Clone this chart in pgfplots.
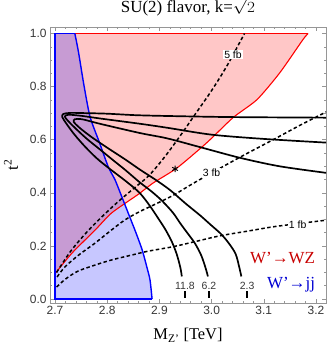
\documentclass[border=0pt]{standalone}
\usepackage{graphicx}
\usepackage{pgfplots}
\pgfplotsset{compat=1.18}
\usepackage{fontspec}
\setmainfont{Liberation Serif}
\newfontfamily\arial{Liberation Sans}
\definecolor{framegray}{RGB}{150,150,150}
\definecolor{ticktext}{RGB}{55,55,55}
\definecolor{wzred}{RGB}{200,0,0}
\definecolor{jjblue}{RGB}{0,0,210}

\begin{document}
\begin{tikzpicture}
\path[use as bounding box] (-50bp,-47bp) rectangle (282bp,303bp);
\begin{axis}[
    at={(0,0)}, anchor=south west,
    width=276bp, height=276bp, scale only axis,
    xmin=2.6904, xmax=3.2192,
    ymin=-0.015, ymax=1.0245,
    xtick={2.7,2.8,2.9,3.0,3.1,3.2},
    ytick={0,0.2,0.4,0.6,0.8,1.0},
    minor x tick num=4,
    minor y tick num=3,
    tick align=inside,
    major tick length=4bp,
    minor tick length=2.2bp,
    axis line style={framegray, line width=0.6pt},
    every tick/.style={framegray, line width=0.5pt},
    /pgf/number format/assume math mode=true,
    xticklabel style={/pgf/number format/.cd, fixed, fixed zerofill, precision=1},
    yticklabel style={/pgf/number format/.cd, fixed, fixed zerofill, precision=1},
    tick label style={font=\arial\fontsize{12}{13}\selectfont, text=ticktext},
    title={SU(2) flavor, k=\scalebox{1}[0.9]{$\sqrt{2}$}},
    title style={at={(axis description cs:0.5,1)}, anchor=base, yshift=9bp,
                 inner sep=1pt, font=\fontsize{17}{18}\selectfont},
    xlabel={M\textsubscript{Z'} [TeV]},
    xlabel style={at={(axis description cs:0.5,-0.117)}, anchor=center,
                  font=\fontsize{16.5}{17}\selectfont},
    ylabel={t\textsuperscript{2}},
    ylabel style={at={(axis description cs:-0.141,0.5)}, anchor=center,
                  font=\fontsize{16.5}{17}\selectfont},
]

% W' -> WZ allowed region (red)
\addplot[draw=none, fill=red, fill opacity=0.22] coordinates {
    (2.7,0.10) (2.7,1.0) (3.185,1.0) (3.175,0.977) (3.131,0.853) (3.087,0.751)
    (3.041,0.683) (2.991,0.589) (2.934,0.494) (2.888,0.437) (2.86,0.395)
    (2.809,0.325) (2.777,0.26) (2.733,0.174) (2.702,0.10)
} \closedcycle;

% W' -> jj allowed region (blue)
\addplot[draw=none, fill=blue, fill opacity=0.22] coordinates {
    (2.7,0.0) (2.7,1.0) (2.738,1.0) (2.745,0.93) (2.755,0.81) (2.767,0.687)
    (2.785,0.59) (2.802,0.498) (2.815,0.449) (2.825,0.40) (2.840,0.325)
    (2.855,0.25) (2.867,0.185) (2.876,0.12) (2.882,0.072) (2.886,0.0)
} \closedcycle;

% boundaries
\addplot[red, line width=1.1pt, smooth, tension=0.4] coordinates {
    (2.702,0.10) (2.733,0.174) (2.777,0.26) (2.809,0.325) (2.86,0.395)
    (2.888,0.437) (2.934,0.494) (2.991,0.589) (3.041,0.683) (3.087,0.751)
    (3.131,0.853) (3.175,0.977) (3.185,1.0)
};
\addplot[red, line width=1.1pt] coordinates {(2.7,1.0) (3.185,1.0)};
\addplot[blue, line width=1.4pt] coordinates {
    (2.886,0.0) (2.7,0.0) (2.7,1.0) (2.738,1.0)
};
\addplot[blue, line width=1.4pt, smooth, tension=0.4] coordinates {
    (2.738,1.0) (2.745,0.93) (2.755,0.81) (2.767,0.687) (2.785,0.59)
    (2.802,0.498) (2.815,0.449) (2.825,0.40) (2.840,0.325) (2.855,0.25)
    (2.867,0.185) (2.876,0.12) (2.882,0.072) (2.886,0.0)
};

% cross-section contours
\addplot[black, line width=1.5pt, dash pattern=on 3.5pt off 2.5pt, smooth] coordinates {
    (2.703,0.10) (2.73,0.18) (2.76,0.25) (2.79,0.31) (2.82,0.365) (2.85,0.415)
    (2.88,0.465) (2.91,0.535) (2.94,0.615) (2.97,0.70) (3.00,0.785)
    (3.03,0.88) (3.063,1.0)
};
\addplot[black, line width=1.5pt, dash pattern=on 3.5pt off 2.5pt, smooth] coordinates {
    (2.704,0.083) (2.719,0.121) (2.745,0.165) (2.777,0.211) (2.805,0.255)
    (2.834,0.298) (2.863,0.33) (2.892,0.357) (2.926,0.39) (2.96,0.43)
    (3.0,0.475) (3.06,0.54) (3.118,0.6) (3.17,0.655) (3.22,0.705)
};
\addplot[black, line width=1.5pt, dash pattern=on 3.5pt off 2.5pt, smooth] coordinates {
    (2.703,0.045) (2.72,0.075) (2.744,0.105) (2.78,0.13) (2.81,0.148)
    (2.85,0.167) (2.878,0.18) (2.926,0.197) (2.97,0.217) (3.016,0.238)
    (3.07,0.256) (3.118,0.272) (3.17,0.285) (3.22,0.297)
};

% width contours
\addplot[black, line width=1.7pt, smooth, tension=0.5] coordinates {
    (2.943,0.085) (2.940,0.12) (2.933,0.17) (2.924,0.215) (2.912,0.26)
    (2.899,0.30) (2.882,0.35) (2.862,0.40) (2.835,0.445) (2.805,0.49)
    (2.78,0.53) (2.757,0.575) (2.737,0.62) (2.722,0.66) (2.714,0.685)
    (2.716,0.697) (2.73,0.701) (2.76,0.700) (2.80,0.698) (2.86,0.692)
    (2.95,0.688) (3.05,0.685) (3.22,0.683)
};
\addplot[black, line width=1.7pt, smooth, tension=0.5] coordinates {
    (2.993,0.085) (2.988,0.12) (2.980,0.165) (2.968,0.21) (2.955,0.245)
    (2.940,0.285) (2.926,0.325) (2.905,0.37) (2.885,0.405) (2.862,0.44)
    (2.834,0.487) (2.81,0.525) (2.785,0.565) (2.76,0.605) (2.738,0.645)
    (2.723,0.675) (2.719,0.688) (2.726,0.694) (2.75,0.690) (2.786,0.680)
    (2.863,0.66) (2.915,0.645) (3.0,0.619) (3.1,0.603) (3.22,0.589)
};
\addplot[black, line width=1.7pt, smooth, tension=0.5] coordinates {
    (3.057,0.085) (3.053,0.12) (3.046,0.17) (3.033,0.21) (3.018,0.245)
    (2.998,0.28) (2.978,0.315) (2.950,0.36) (2.920,0.411) (2.892,0.45)
    (2.863,0.487) (2.835,0.525) (2.80,0.57) (2.77,0.61) (2.747,0.645)
    (2.736,0.667) (2.738,0.677) (2.752,0.677) (2.786,0.66) (2.863,0.625)
    (2.915,0.605) (2.978,0.572) (3.054,0.532) (3.13,0.50) (3.22,0.475)
};

% small markers below the contour labels
\addplot[black, line width=1.6pt] coordinates {(2.949,0.004) (2.949,0.03)};
\addplot[black, line width=1.6pt] coordinates {(2.995,0.004) (2.995,0.03)};
\addplot[black, line width=1.6pt] coordinates {(3.068,0.004) (3.068,0.03)};

% benchmark point
\addplot[only marks, mark=asterisk, mark size=3.3pt, black, line width=0.9pt]
    coordinates {(2.930,0.49)};

\begin{scope}[font=\arial\fontsize{10.5}{11}\selectfont]
\node[fill=white, inner sep=0.8pt] at (axis cs:3.041,0.92) {5 fb};
\node[fill=white, inner sep=0.8pt] at (axis cs:3.0,0.475) {3 fb};
\node[fill=white, inner sep=0.8pt] at (axis cs:3.165,0.281) {1 fb};
\node[text=ticktext] at (axis cs:2.949,0.049) {11.8};
\node[text=ticktext] at (axis cs:2.995,0.049) {6.2};
\node[text=ticktext] at (axis cs:3.068,0.049) {2.3};
\end{scope}

\node[anchor=east, text=wzred, font=\fontsize{17}{18}\selectfont]
    at (axis cs:3.205,0.155) {W'→WZ};
\node[anchor=east, text=jjblue, font=\fontsize{17}{18}\selectfont]
    at (axis cs:3.205,0.053) {W'→jj};

\end{axis}
\end{tikzpicture}
\end{document}
